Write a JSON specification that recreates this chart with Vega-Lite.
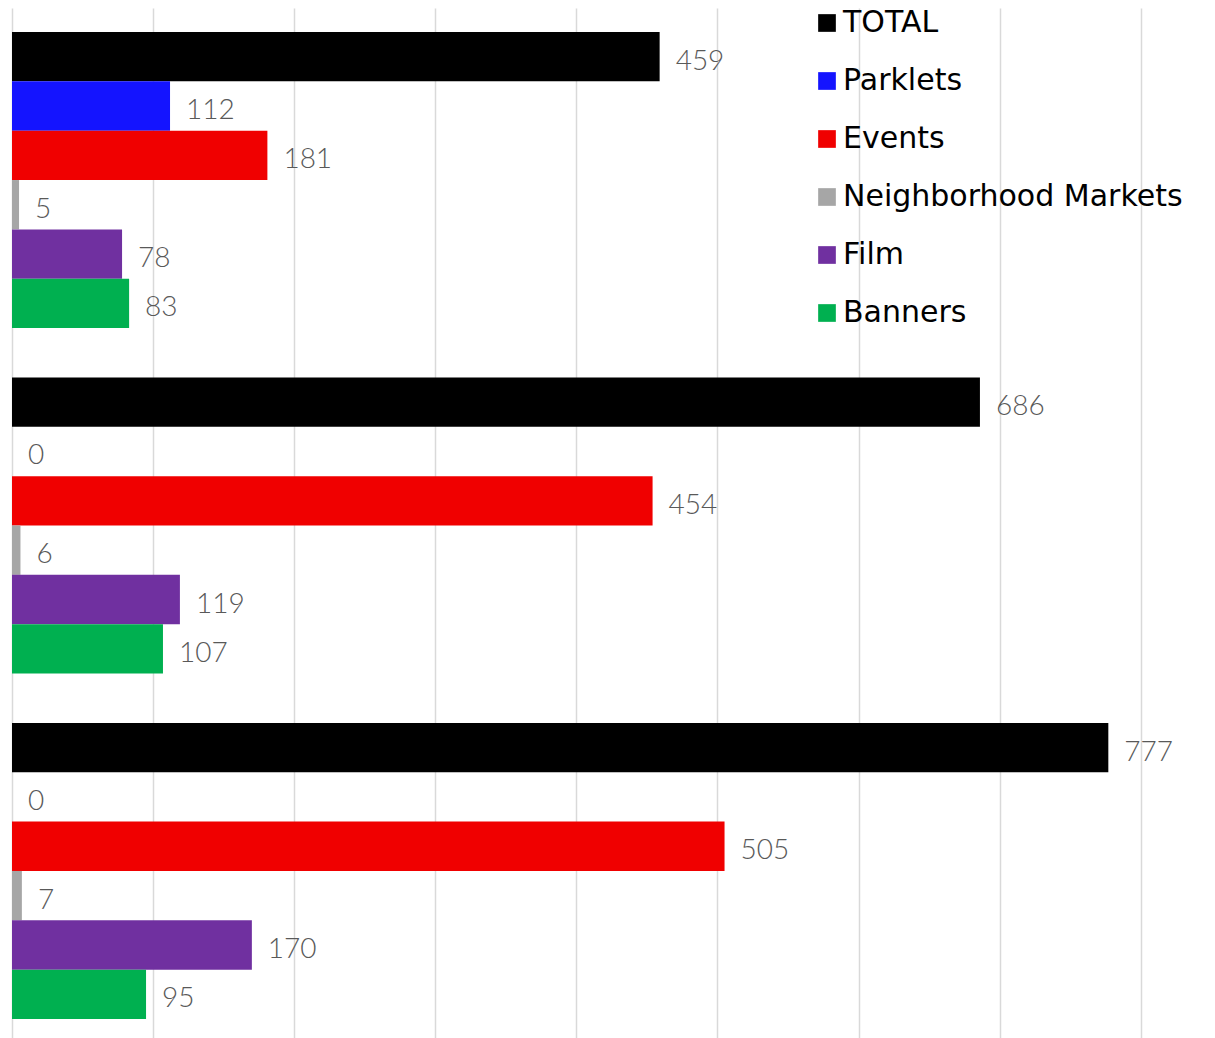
{
  "$schema": "https://vega.github.io/schema/vega-lite/v6.json",
  "width": 1203,
  "height": 1035,
  "autosize": {"type": "none"},
  "padding": {"left": 12, "top": 8, "right": 0, "bottom": 0},
  "background": "white",
  "config": {"view": {"stroke": null}},
  "data": {
    "values": [
      {"group": "A", "category": "TOTAL", "value": 459},
      {"group": "A", "category": "Parklets", "value": 112},
      {"group": "A", "category": "Events", "value": 181},
      {"group": "A", "category": "\u00a0Neighborhood Markets", "value": 5},
      {"group": "A", "category": "Film", "value": 78},
      {"group": "A", "category": "Banners", "value": 83},
      {"group": "B", "category": "TOTAL", "value": 686},
      {"group": "B", "category": "Parklets", "value": 0},
      {"group": "B", "category": "Events", "value": 454},
      {"group": "B", "category": "\u00a0Neighborhood Markets", "value": 6},
      {"group": "B", "category": "Film", "value": 119},
      {"group": "B", "category": "Banners", "value": 107},
      {"group": "C", "category": "TOTAL", "value": 777},
      {"group": "C", "category": "Parklets", "value": 0},
      {"group": "C", "category": "Events", "value": 505},
      {"group": "C", "category": "\u00a0Neighborhood Markets", "value": 7},
      {"group": "C", "category": "Film", "value": 170},
      {"group": "C", "category": "Banners", "value": 95}
    ]
  },
  "encoding": {
    "y": {
      "field": "group",
      "type": "nominal",
      "sort": ["A", "B", "C"],
      "scale": {"paddingInner": 0.143, "paddingOuter": 0.0695},
      "axis": null
    },
    "yOffset": {
      "field": "category",
      "type": "nominal",
      "sort": ["TOTAL", "Parklets", "Events", "\u00a0Neighborhood Markets", "Film", "Banners"],
      "scale": {"paddingInner": 0, "paddingOuter": 0}
    },
    "x": {
      "field": "value",
      "type": "quantitative",
      "scale": {"domain": [0, 852.6], "nice": false, "zero": true},
      "axis": {
        "values": [0, 100, 200, 300, 400, 500, 600, 700, 800],
        "labels": false,
        "ticks": false,
        "domain": false,
        "title": null,
        "grid": true,
        "gridColor": "#D9D9D9",
        "gridWidth": 1.5
      }
    }
  },
  "layer": [
    {
      "mark": {"type": "bar"},
      "encoding": {
        "color": {
          "field": "category",
          "type": "nominal",
          "scale": {
            "domain": ["TOTAL", "Parklets", "Events", "\u00a0Neighborhood Markets", "Film", "Banners"],
            "range": ["#000000", "#1414FF", "#F00000", "#A6A6A6", "#7030A0", "#00B050"]
          },
          "legend": {
            "title": null,
            "orient": "none",
            "legendX": 800,
            "legendY": 0,
            "padding": 0,
            "symbolType": "square",
            "symbolSize": 313,
            "symbolStrokeWidth": 0,
            "symbolOpacity": 1,
            "labelFont": "DejaVu Sans",
            "labelFontSize": 30,
            "labelColor": "#000000",
            "labelOffset": 1,
            "rowPadding": 28,
            "labelLimit": 500
          }
        }
      }
    },
    {
      "mark": {
        "type": "text",
        "align": "left",
        "baseline": "middle",
        "dx": 16,
        "dy": 5,
        "font": "Lato",
        "fontWeight": 300,
        "fontSize": 28,
        "color": "#595959"
      },
      "encoding": {
        "text": {"field": "value", "type": "quantitative"}
      }
    }
  ]
}
